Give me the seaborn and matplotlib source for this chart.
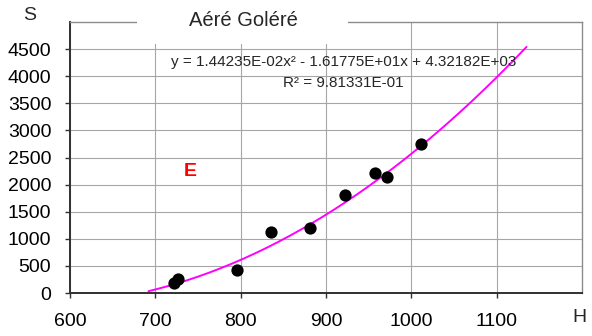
import numpy as np
import pandas as pd
import matplotlib
matplotlib.use("Agg")
import matplotlib.pyplot as plt
import seaborn as sns
from matplotlib.patches import Rectangle

# Measured points
h_values = [722, 726, 796, 836, 881, 922, 958, 972, 1011]
s_values = [180, 255, 425, 1130, 1195, 1800, 2205, 2135, 2750]

# Second-order trend coefficients (a*x^2 + b*x + c) and fit quality
coef_a = 1.44235e-02
coef_b = -1.61775e+01
coef_c = 4.32182e+03
r_squared = 9.81331e-01
trend_range = (692, 1135)

x_ticks = [600, 700, 800, 900, 1000, 1100]
y_ticks = [0, 500, 1000, 1500, 2000, 2500, 3000, 3500, 4000, 4500]

sns.set_theme(style="white")
plt.rcParams["font.family"] = ["Liberation Sans", "DejaVu Sans"]

fig = plt.figure(figsize=(5.92, 3.36), dpi=100)
ax = fig.add_axes([70 / 592, 1 - 293 / 336, 512 / 592, 271 / 336])

points = pd.DataFrame({"H": h_values, "S": s_values})
xs = np.linspace(trend_range[0], trend_range[1], 200)
trend = pd.DataFrame({"H": xs, "S": coef_a * xs ** 2 + coef_b * xs + coef_c})

sns.lineplot(data=trend, x="H", y="S", ax=ax, color="#ff00ff", linewidth=1.4, zorder=3)
sns.scatterplot(data=points, x="H", y="S", ax=ax, color="black", s=78,
                edgecolor="black", linewidth=0, zorder=4)

ax.set_xlim(600, 1200)
ax.set_ylim(0, 5000)
ax.set_xticks(x_ticks)
ax.set_yticks(y_ticks)
ax.set_xticklabels([str(v) for v in x_ticks])
ax.set_yticklabels([str(v) for v in y_ticks])
ax.set_xlabel("")
ax.set_ylabel("")
ax.grid(True, color="#a6a6a6", linewidth=0.8)
ax.set_axisbelow(True)

for side in ["top", "right"]:
    ax.spines[side].set_color("#8c8c8c")
    ax.spines[side].set_linewidth(1.0)
for side in ["left", "bottom"]:
    ax.spines[side].set_color("#303030")
    ax.spines[side].set_linewidth(1.4)

ax.tick_params(axis="both", which="both", direction="out", length=3.5, width=1.0,
               color="#303030", labelsize=14, labelcolor="black")
ax.tick_params(axis="x", pad=11)
ax.tick_params(axis="y", pad=10)
ax.xaxis.set_ticks_position("bottom")
ax.yaxis.set_ticks_position("left")

# white box behind the title, breaking the top frame
ax.add_patch(Rectangle((137 / 592, 1 - 44 / 336), 211 / 592, 44 / 336,
                       transform=fig.transFigure, facecolor="white", edgecolor="none",
                       zorder=5, clip_on=False))
fig.text(243 / 592, 1 - 20 / 336, "Aéré Goléré", ha="center", va="center",
         fontsize=14.5, zorder=6)

fig.text(30 / 592, 1 - 16 / 336, "S", ha="center", va="center", fontsize=14)
fig.text(579 / 592, 1 - 318 / 336, "H", ha="center", va="center", fontsize=14)

eq = (f"y = {coef_a:.5E}x\u00b2 - {abs(coef_b):.5E}x + {coef_c:.5E}")
ax.text(344 / 592, 1 - 62 / 336, eq, transform=fig.transFigure, ha="center",
        va="center", fontsize=11, zorder=6)
ax.text(283 / 592, 1 - 83 / 336, f"R\u00b2 = {r_squared:.5E}", transform=fig.transFigure,
        ha="left", va="center", fontsize=11, zorder=6)

ax.text(190 / 592, 1 - 172 / 336, "E", transform=fig.transFigure, ha="center",
        va="center", fontsize=14, fontweight="bold", color="#ff0000", zorder=6)

fig.savefig("out.png", dpi=100)
